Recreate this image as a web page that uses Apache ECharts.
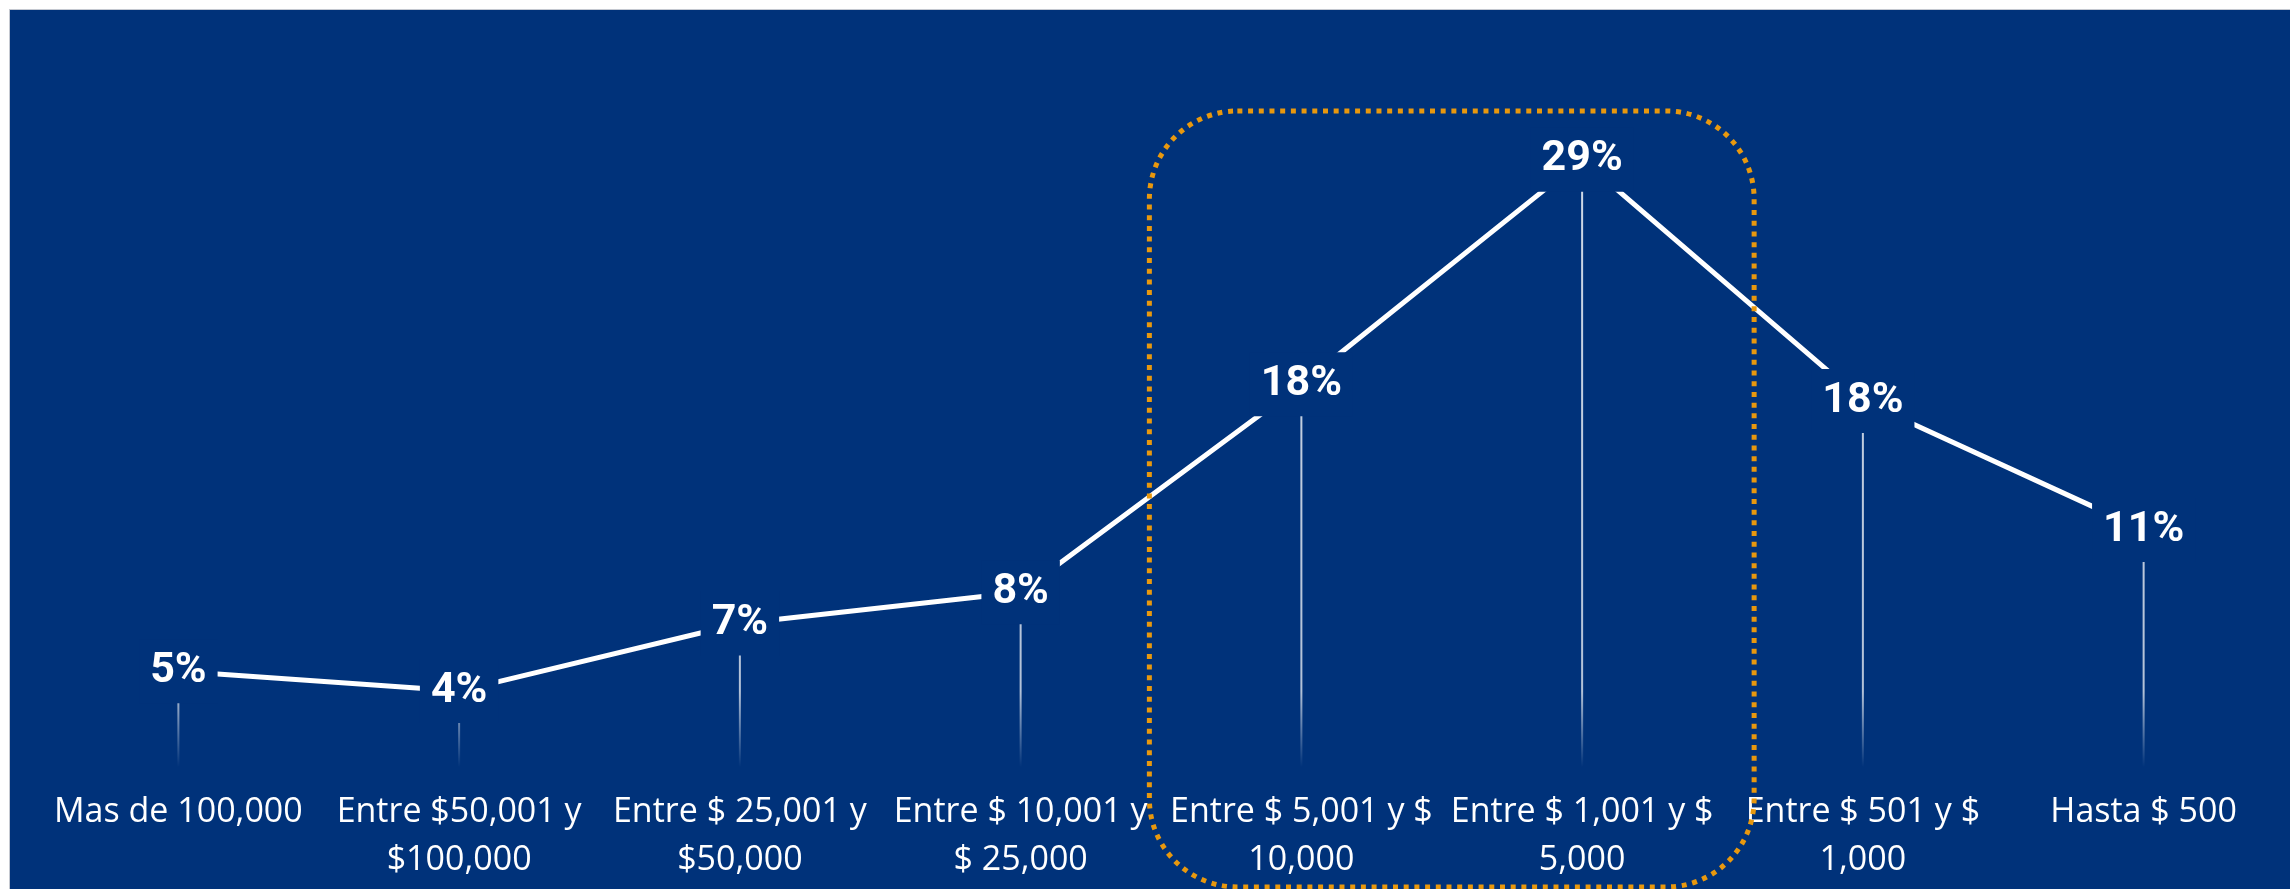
<!DOCTYPE html>
<html>
<head>
<meta charset="utf-8">
<script src="https://cdn.jsdelivr.net/npm/echarts@6/dist/echarts.min.js"></script>
<style>
  html, body { margin: 0; padding: 0; background: #ffffff; width: 2290px; height: 889px; overflow: hidden; }
  #wrap { position: absolute; left: 9px; top: 9px; width: 2281px; height: 880px;
          border-left: 1px solid #c4c8d0; border-top: 1px solid #c4c8d0; background: #00327A; }
  #chart { width: 2281px; height: 880px; }
</style>
</head>
<body>
<div id="wrap"><div id="chart"></div></div>
<script>
// ---- data ----
const categories = [
  'Mas de 100,000',
  'Entre $50,001 y\n$100,000',
  'Entre $ 25,001 y\n$50,000',
  'Entre $ 10,001 y\n$ 25,000',
  'Entre $ 5,001 y $\n10,000',
  'Entre $ 1,001 y $\n5,000',
  'Entre $ 501 y $\n1,000',
  'Hasta $ 500'
];
const shares = [4.6, 3.65, 6.9, 8.4, 18.4, 29.2, 17.6, 11.4];
const highlighted = ['Entre $ 5,001 y $\n10,000', 'Entre $ 1,001 y $\n5,000'];

// ---- chart ----
const BG = '#00327A';
const chart = echarts.init(document.getElementById('chart'), null, { renderer: 'canvas' });

const option = {
  backgroundColor: BG,
  animation: false,
  grid: { left: 28, right: 7, top: 29, bottom: 123, containLabel: false },
  xAxis: {
    type: 'category',
    data: categories,
    boundaryGap: true,
    axisLine: { show: false },
    axisTick: { show: false },
    splitLine: { show: false },
    axisLabel: {
      interval: 0,
      color: '#ffffff',
      fontFamily: 'Open Sans',
      fontSize: 34,
      lineHeight: 48,
      margin: 21,
      align: 'center'
    }
  },
  yAxis: {
    type: 'value',
    min: 0,
    max: 35,
    show: false,
    splitLine: { show: false }
  },
  series: [
    {
      type: 'bar',
      data: shares,
      barWidth: 2,
      z: 2,
      silent: true,
      itemStyle: {
        color: new echarts.graphic.LinearGradient(0, 0, 0, 757, [
          { offset: 0, color: 'rgba(255,255,255,0.85)' },
          { offset: 0.9, color: 'rgba(255,255,255,0.7)' },
          { offset: 1, color: 'rgba(255,255,255,0)' }
        ], true)
      }
    },
    {
      type: 'line',
      data: shares,
      z: 3,
      symbol: 'circle',
      symbolSize: 2,
      showSymbol: true,
      itemStyle: { color: 'rgba(255,255,255,0)', borderWidth: 0 },
      lineStyle: { color: '#ffffff', width: 5 },
      label: {
        show: true,
        position: 'inside',
        formatter: p => Math.round(p.value) + '%',
        color: '#ffffff',
        fontFamily: 'Roboto, "Liberation Sans", sans-serif',
        fontWeight: 'bold',
        fontSize: 43,
        lineHeight: 50,
        backgroundColor: BG,
        padding: [11, 11, 3, 11]
      }
    }
  ]
};
chart.setOption(option);

// highlight box around the two peak categories
const x1 = chart.convertToPixel({ xAxisIndex: 0 }, highlighted[0]);
const x2 = chart.convertToPixel({ xAxisIndex: 0 }, highlighted[1]);
const left = x1 - 152, right = x2 + 172;
chart.setOption({
  graphic: [{
    type: 'rect',
    z: 100,
    silent: true,
    shape: { x: left, y: 101, width: right - left, height: 776, r: 88 },
    style: { fill: null, stroke: '#E8980E', lineWidth: 5, lineDash: [5, 5.7] }
  }]
});
</script>
</body>
</html>
